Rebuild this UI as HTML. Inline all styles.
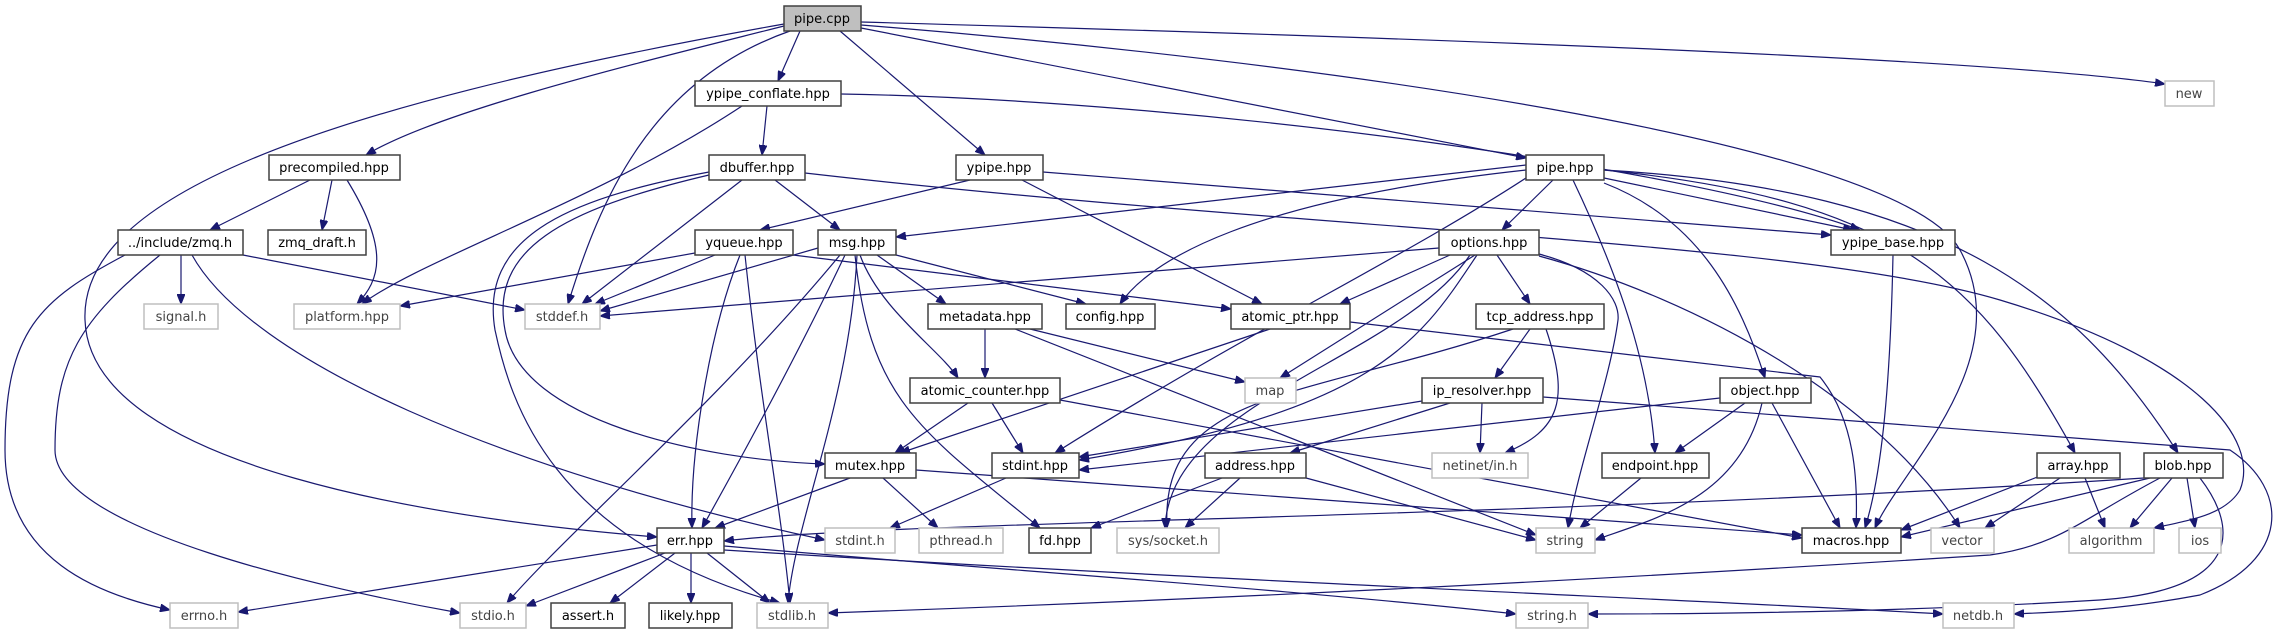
<!DOCTYPE html>
<html><head><meta charset="utf-8"><style>
html,body{margin:0;padding:0;background:#fff;}
svg{display:block;}
text{font-family:"DejaVu Sans","Liberation Sans",sans-serif;font-size:13px;fill:#000;text-anchor:middle;}
.n rect{fill:#fff;stroke:#404040;stroke-width:1.5;}
.g rect{fill:#fff;stroke:#bfbfbf;stroke-width:1.5;}
.g text{fill:#444;}
path.e{fill:none;stroke:#191970;stroke-width:1.2;marker-end:url(#a);}
</style></head><body>
<svg width="2276" height="635" viewBox="0 0 2276 635" xmlns="http://www.w3.org/2000/svg">
<defs><marker id="a" markerUnits="userSpaceOnUse" markerWidth="11" markerHeight="8" refX="10" refY="4" orient="auto"><path d="M0,0 L10,4 L0,8 z" fill="#191970" stroke="#191970"/></marker></defs>
<g>
<path class="e" d="M784,26 C650,60 440,110 366,155"/>
<path class="e" d="M784,24 C300,110 80,200 85,320 C90,470 450,520 657,537"/>
<path class="e" d="M790,31 C650,80 600,200 568,304"/>
<path class="e" d="M800,31 L778,81"/>
<path class="e" d="M840,31 L985,155"/>
<path class="e" d="M861,28 L1526,158"/>
<path class="e" d="M861,22 C1500,40 2000,60 2165,84"/>
<path class="e" d="M861,25 C1300,60 1900,140 1960,250 C2020,360 1900,470 1875,528"/>
<path class="e" d="M841,94 C1200,100 1700,170 1860,230"/>
<path class="e" d="M767,106 L762,155"/>
<path class="e" d="M742,106 C600,200 420,260 362,304"/>
<path class="e" d="M310,180 L210,230"/>
<path class="e" d="M332,180 L322,230"/>
<path class="e" d="M347,180 C390,250 380,280 357,304"/>
<path class="e" d="M181,255 L181,304"/>
<path class="e" d="M243,255 L525,310"/>
<path class="e" d="M125,255 C40,300 5,330 5,450 C5,560 100,595 170,610"/>
<path class="e" d="M160,255 C80,320 55,360 55,450 C55,530 330,590 460,613"/>
<path class="e" d="M192,255 C250,360 500,470 825,540"/>
<path class="e" d="M742,180 L582,304"/>
<path class="e" d="M775,180 L840,230"/>
<path class="e" d="M709,175 C560,210 490,250 505,330 C520,420 700,460 825,464"/>
<path class="e" d="M709,172 C560,200 480,240 495,330 C510,400 550,540 780,603"/>
<path class="e" d="M805,173 C1300,230 1800,240 2000,300 C2200,360 2260,440 2240,490 C2225,515 2190,520 2154,528"/>
<path class="e" d="M970,180 L760,230"/>
<path class="e" d="M1022,180 L1262,304"/>
<path class="e" d="M1043,172 L1831,235"/>
<path class="e" d="M695,253 L400,306"/>
<path class="e" d="M715,255 L595,304"/>
<path class="e" d="M740,255 C710,330 690,450 692,528"/>
<path class="e" d="M745,255 C760,400 780,500 790,603"/>
<path class="e" d="M793,255 L1231,309"/>
<path class="e" d="M818,248 L600,311"/>
<path class="e" d="M896,255 L1086,304"/>
<path class="e" d="M877,255 L946,304"/>
<path class="e" d="M860,255 C880,310 940,350 958,378"/>
<path class="e" d="M845,255 C800,350 740,460 702,528"/>
<path class="e" d="M855,255 C870,400 920,430 1040,528"/>
<path class="e" d="M840,255 C720,400 560,540 507,603"/>
<path class="e" d="M857,255 C850,400 795,520 788,603"/>
<path class="e" d="M1526,165 L896,237"/>
<path class="e" d="M1526,170 C1250,200 1150,260 1120,304"/>
<path class="e" d="M1553,180 L1502,230"/>
<path class="e" d="M1604,178 L1853,230"/>
<path class="e" d="M1573,180 C1630,300 1650,380 1655,453"/>
<path class="e" d="M1604,183 C1700,220 1740,300 1765,378"/>
<path class="e" d="M1526,178 C1400,260 1250,330 1055,453"/>
<path class="e" d="M1604,170 C1900,200 1980,280 2075,453"/>
<path class="e" d="M1604,170 C1950,190 2080,300 2178,453"/>
<path class="e" d="M1439,248 L600,316"/>
<path class="e" d="M1450,255 L1340,304"/>
<path class="e" d="M1497,255 L1530,304"/>
<path class="e" d="M1475,255 L1280,378"/>
<path class="e" d="M1477,255 C1420,340 1380,410 1079,460"/>
<path class="e" d="M1470,255 C1400,360 1170,400 1165,528"/>
<path class="e" d="M1539,254 C1600,270 1620,300 1618,320 C1610,380 1580,460 1568,528"/>
<path class="e" d="M1539,256 C1700,300 1880,400 1960,528"/>
<path class="e" d="M985,329 L985,378"/>
<path class="e" d="M1030,329 L1245,382"/>
<path class="e" d="M1015,329 L1536,535"/>
<path class="e" d="M1270,329 L900,453"/>
<path class="e" d="M1350,322 L1820,377 C1855,420 1858,480 1856,528"/>
<path class="e" d="M968,403 L895,453"/>
<path class="e" d="M992,403 L1023,453"/>
<path class="e" d="M1060,400 L1802,538"/>
<path class="e" d="M1530,329 L1495,378"/>
<path class="e" d="M1546,329 C1570,400 1560,430 1505,453"/>
<path class="e" d="M1513,329 C1300,400 1160,390 1167,528"/>
<path class="e" d="M1422,401 L1079,457"/>
<path class="e" d="M1450,403 L1290,453"/>
<path class="e" d="M1482,403 L1480,453"/>
<path class="e" d="M1543,397 L2230,450 C2290,490 2290,560 2200,595 C2120,610 2060,612 2014,614"/>
<path class="e" d="M1720,398 L1079,470"/>
<path class="e" d="M1745,403 L1675,453"/>
<path class="e" d="M1762,403 C1740,500 1650,520 1595,540"/>
<path class="e" d="M1772,403 L1840,528"/>
<path class="e" d="M850,478 L715,528"/>
<path class="e" d="M883,478 L938,528"/>
<path class="e" d="M916,470 L1802,535"/>
<path class="e" d="M1006,478 L890,528"/>
<path class="e" d="M1222,478 L1091,528"/>
<path class="e" d="M1240,478 L1185,528"/>
<path class="e" d="M1306,478 L1536,540"/>
<path class="e" d="M1641,478 L1580,528"/>
<path class="e" d="M1893,255 C1890,400 1880,480 1865,528"/>
<path class="e" d="M2040,476 L1901,530"/>
<path class="e" d="M2060,478 L1985,528"/>
<path class="e" d="M2085,478 L2105,528"/>
<path class="e" d="M2144,478 C1500,520 900,520 724,541"/>
<path class="e" d="M2150,478 L1901,537"/>
<path class="e" d="M2172,478 L2130,528"/>
<path class="e" d="M2187,478 L2195,528"/>
<path class="e" d="M2160,478 C2080,520 2060,545 1990,555 C1600,580 1200,600 828,613"/>
<path class="e" d="M2200,478 C2240,530 2240,590 2100,600 C1900,612 1700,614 1588,614"/>
<path class="e" d="M657,545 L238,612"/>
<path class="e" d="M665,553 L526,606"/>
<path class="e" d="M675,553 L610,603"/>
<path class="e" d="M691,553 L691,603"/>
<path class="e" d="M707,553 L770,603"/>
<path class="e" d="M724,546 C1000,570 1300,590 1516,614"/>
<path class="e" d="M724,550 C1200,580 1700,600 1943,614"/>
</g>
<g>
<g><rect x="784" y="6" width="77" height="25" fill="#bfbfbf" stroke="#404040" stroke-width="1.5"/><text x="822" y="23">pipe.cpp</text></g>
<g class="g"><rect x="2165" y="81" width="49" height="25"/><text x="2189" y="98">new</text></g>
<g class="n"><rect x="695" y="81" width="146" height="25"/><text x="768" y="98">ypipe_conflate.hpp</text></g>
<g class="n"><rect x="269" y="155" width="131" height="25"/><text x="334" y="172">precompiled.hpp</text></g>
<g class="n"><rect x="709" y="155" width="96" height="25"/><text x="757" y="172">dbuffer.hpp</text></g>
<g class="n"><rect x="956" y="155" width="87" height="25"/><text x="999" y="172">ypipe.hpp</text></g>
<g class="n"><rect x="1526" y="155" width="78" height="25"/><text x="1565" y="172">pipe.hpp</text></g>
<g class="n"><rect x="118" y="230" width="125" height="25"/><text x="180" y="247">../include/zmq.h</text></g>
<g class="n"><rect x="268" y="230" width="98" height="25"/><text x="317" y="247">zmq_draft.h</text></g>
<g class="n"><rect x="695" y="230" width="98" height="25"/><text x="744" y="247">yqueue.hpp</text></g>
<g class="n"><rect x="818" y="230" width="78" height="25"/><text x="857" y="247">msg.hpp</text></g>
<g class="n"><rect x="1439" y="230" width="100" height="25"/><text x="1489" y="247">options.hpp</text></g>
<g class="n"><rect x="1831" y="230" width="124" height="25"/><text x="1893" y="247">ypipe_base.hpp</text></g>
<g class="g"><rect x="144" y="304" width="74" height="25"/><text x="181" y="321">signal.h</text></g>
<g class="g"><rect x="294" y="304" width="106" height="25"/><text x="347" y="321">platform.hpp</text></g>
<g class="g"><rect x="525" y="304" width="75" height="25"/><text x="562" y="321">stddef.h</text></g>
<g class="n"><rect x="928" y="304" width="114" height="25"/><text x="985" y="321">metadata.hpp</text></g>
<g class="n"><rect x="1066" y="304" width="89" height="25"/><text x="1110" y="321">config.hpp</text></g>
<g class="n"><rect x="1231" y="304" width="119" height="25"/><text x="1290" y="321">atomic_ptr.hpp</text></g>
<g class="n"><rect x="1476" y="304" width="128" height="25"/><text x="1540" y="321">tcp_address.hpp</text></g>
<g class="n"><rect x="910" y="378" width="150" height="25"/><text x="985" y="395">atomic_counter.hpp</text></g>
<g class="g"><rect x="1245" y="378" width="51" height="25"/><text x="1270" y="395">map</text></g>
<g class="n"><rect x="1422" y="378" width="121" height="25"/><text x="1482" y="395">ip_resolver.hpp</text></g>
<g class="n"><rect x="1720" y="378" width="91" height="25"/><text x="1765" y="395">object.hpp</text></g>
<g class="n"><rect x="825" y="453" width="91" height="25"/><text x="870" y="470">mutex.hpp</text></g>
<g class="n"><rect x="992" y="453" width="87" height="25"/><text x="1035" y="470">stdint.hpp</text></g>
<g class="n"><rect x="1205" y="453" width="101" height="25"/><text x="1255" y="470">address.hpp</text></g>
<g class="g"><rect x="1432" y="453" width="96" height="25"/><text x="1480" y="470">netinet/in.h</text></g>
<g class="n"><rect x="1602" y="453" width="107" height="25"/><text x="1655" y="470">endpoint.hpp</text></g>
<g class="n"><rect x="2037" y="453" width="83" height="25"/><text x="2078" y="470">array.hpp</text></g>
<g class="n"><rect x="2144" y="453" width="79" height="25"/><text x="2183" y="470">blob.hpp</text></g>
<g class="n"><rect x="657" y="528" width="67" height="25"/><text x="690" y="545">err.hpp</text></g>
<g class="g"><rect x="825" y="528" width="70" height="25"/><text x="860" y="545">stdint.h</text></g>
<g class="g"><rect x="919" y="528" width="84" height="25"/><text x="961" y="545">pthread.h</text></g>
<g class="n"><rect x="1029" y="528" width="62" height="25"/><text x="1060" y="545">fd.hpp</text></g>
<g class="g"><rect x="1117" y="528" width="102" height="25"/><text x="1168" y="545">sys/socket.h</text></g>
<g class="g"><rect x="1536" y="528" width="59" height="25"/><text x="1565" y="545">string</text></g>
<g class="n"><rect x="1802" y="528" width="99" height="25"/><text x="1851" y="545">macros.hpp</text></g>
<g class="g"><rect x="1931" y="528" width="63" height="25"/><text x="1962" y="545">vector</text></g>
<g class="g"><rect x="2069" y="528" width="85" height="25"/><text x="2111" y="545">algorithm</text></g>
<g class="g"><rect x="2179" y="528" width="42" height="25"/><text x="2200" y="545">ios</text></g>
<g class="g"><rect x="170" y="603" width="68" height="25"/><text x="204" y="620">errno.h</text></g>
<g class="g"><rect x="460" y="603" width="66" height="25"/><text x="493" y="620">stdio.h</text></g>
<g class="n"><rect x="551" y="603" width="74" height="25"/><text x="588" y="620">assert.h</text></g>
<g class="n"><rect x="649" y="603" width="83" height="25"/><text x="690" y="620">likely.hpp</text></g>
<g class="g"><rect x="757" y="603" width="71" height="25"/><text x="792" y="620">stdlib.h</text></g>
<g class="g"><rect x="1516" y="603" width="72" height="25"/><text x="1552" y="620">string.h</text></g>
<g class="g"><rect x="1943" y="603" width="71" height="25"/><text x="1978" y="620">netdb.h</text></g>
</g>
</svg>
</body></html>
